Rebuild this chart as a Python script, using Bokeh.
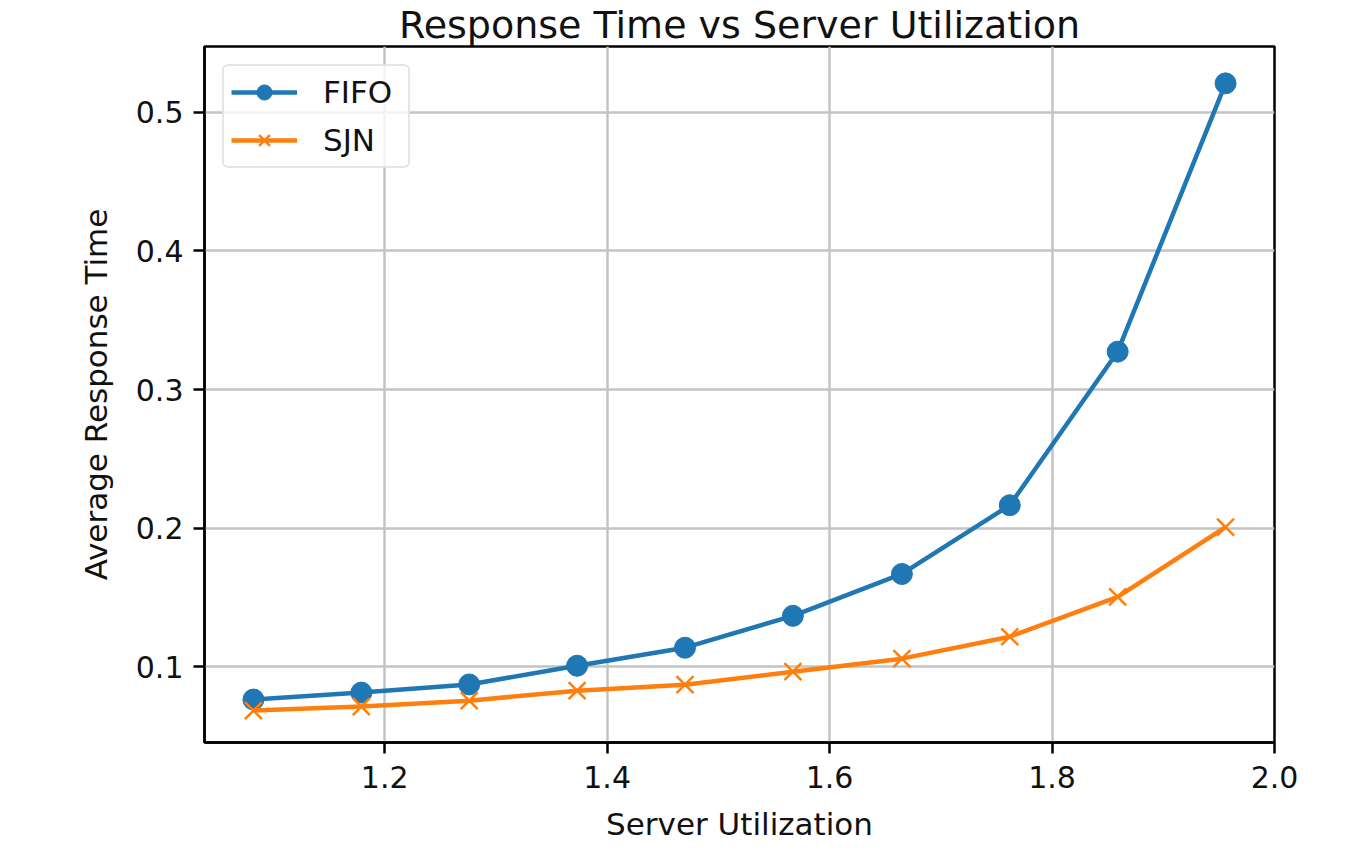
from bokeh.plotting import figure
from bokeh.models import Range1d, FixedTicker, PrintfTickFormatter, Legend, LegendItem
from bokeh.embed import file_html
from bokeh.resources import INLINE

title_text = "Response Time vs Server Utilization"
utilization = [1.082, 1.179, 1.276, 1.373, 1.470, 1.567, 1.665, 1.762, 1.859, 1.956]
fifo = [0.0763, 0.0813, 0.0872, 0.1007, 0.1137, 0.1367, 0.1669, 0.2165, 0.3273, 0.5209]
sjn = [0.0683, 0.0712, 0.0755, 0.0827, 0.0870, 0.0964, 0.1058, 0.1216, 0.1504, 0.2007]
x_ticks = [1.2, 1.4, 1.6, 1.8, 2.0]
y_ticks = [0.1, 0.2, 0.3, 0.4, 0.5]

FONT = "DejaVu Sans"
BLUE = "#1f77b4"
ORANGE = "#ff7f0e"
X0, X1 = 1.038, 2.0
Y0, Y1 = 0.0453, 0.5475

p = figure(width=1352, height=846, output_backend="svg", toolbar_location=None,
           x_range=Range1d(X0, X1), y_range=Range1d(Y0, Y1), title=title_text)
p.min_border_left = 204
p.min_border_right = 78
p.min_border_top = 0
p.min_border_bottom = 104
p.background_fill_color = "white"
p.border_fill_color = "white"
p.outline_line_color = "black"
p.outline_line_width = 2.5

p.title.text_font = FONT
p.title.text_font_size = "38px"
p.title.text_font_style = "normal"
p.title.align = "center"
p.title.text_color = "#111111"
p.title.standoff = 0

for ax in (p.xaxis[0], p.yaxis[0]):
    ax.axis_line_color = "black"
    ax.axis_line_width = 2.5
    ax.major_tick_line_color = "black"
    ax.major_tick_line_width = 2.5
    ax.major_tick_out = 11
    ax.major_tick_in = 0
    ax.minor_tick_line_color = None
    ax.major_label_text_font = FONT
    ax.major_label_text_font_size = "30px"
    ax.major_label_text_color = "#111111"
    ax.major_label_standoff = 10
    ax.axis_label_text_font = FONT
    ax.axis_label_text_font_size = "31px"
    ax.axis_label_text_font_style = "normal"
    ax.axis_label_text_color = "#111111"
    ax.formatter = PrintfTickFormatter(format="%.1f")

p.xaxis[0].ticker = FixedTicker(ticks=x_ticks)
p.yaxis[0].ticker = FixedTicker(ticks=y_ticks)
p.xaxis[0].axis_label = "Server Utilization"
p.yaxis[0].axis_label = "Average Response Time"
p.xaxis[0].major_label_standoff = 12
p.xaxis[0].axis_label_standoff = 15
p.yaxis[0].axis_label_standoff = 19

for g in (p.xgrid[0], p.ygrid[0]):
    g.grid_line_color = "#c4c4c4"
    g.grid_line_width = 2.5
p.xgrid[0].ticker = FixedTicker(ticks=x_ticks)
p.ygrid[0].ticker = FixedTicker(ticks=y_ticks)

l1 = p.line(utilization, fifo, line_color=BLUE, line_width=4.5)
s1 = p.scatter(utilization, fifo, marker="circle", size=21, fill_color=BLUE, line_color=BLUE)
l2 = p.line(utilization, sjn, line_color=ORANGE, line_width=4.5)
s2 = p.scatter(utilization, sjn, marker="x", size=24, line_color=ORANGE, line_width=2.5)

legend = Legend(items=[LegendItem(label="FIFO", renderers=[l1, s1]),
                       LegendItem(label="SJN", renderers=[l2, s2])],
                location="top_left")
legend.margin = 18
legend.padding = 7
legend.spacing = 10
legend.glyph_width = 66
legend.glyph_height = 38
legend.label_height = 38
legend.label_width = 78
legend.label_standoff = 26
legend.label_text_font = FONT
legend.label_text_font_size = "31px"
legend.label_text_color = "#111111"
legend.border_line_color = "#cccccc"
legend.border_line_width = 2
legend.border_radius = 6
legend.background_fill_alpha = 0.8
p.add_layout(legend)

open("out.html", "w").write(file_html(p, INLINE))
